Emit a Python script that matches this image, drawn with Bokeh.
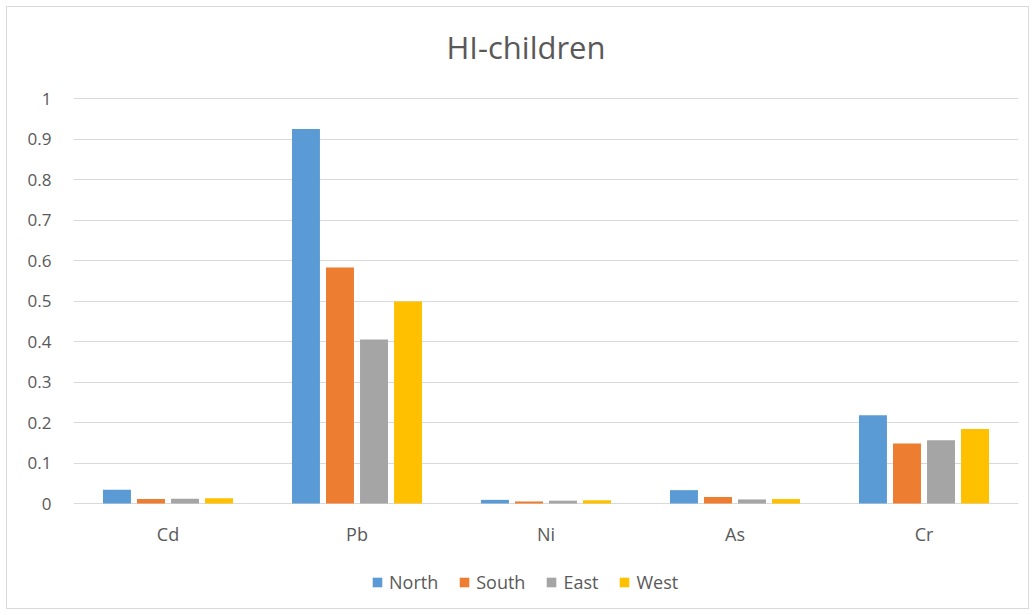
from bokeh.plotting import figure
from bokeh.models import (ColumnDataSource, FactorRange, Range1d, FixedTicker,
                          CustomJSTickFormatter, Legend, LegendItem, InlineStyleSheet)
from bokeh.core.properties import value
from bokeh.transform import dodge
from bokeh.embed import file_html
from bokeh.resources import INLINE

title = "HI-children"
categories = ["Cd", "Pb", "Ni", "As", "Cr"]
series = ["North", "South", "East", "West"]
north = [0.034, 0.925, 0.009, 0.033, 0.218]
south = [0.011, 0.583, 0.005, 0.016, 0.148]
east = [0.012, 0.405, 0.007, 0.010, 0.156]
west = [0.013, 0.499, 0.008, 0.011, 0.184]
y_ticks = [0, 0.1, 0.2, 0.3, 0.4, 0.5, 0.6, 0.7, 0.8, 0.9, 1.0]

colors = ["#5B9BD5", "#ED7D31", "#A5A5A5", "#FFC000"]
FONT = "Open Sans"
TXT = "#595959"

# frame spans 10..600 px; value 0 sits at 503 px, 1 at 98 px (405 px per unit)
PX = 1 / 405
Y_MIN = -97 * PX
Y_MAX = 1 + 88 * PX
LABEL_Y = -30 * PX
TITLE_Y = 1 + 52 * PX

source = ColumnDataSource(dict(cat=categories, North=north, South=south, East=east, West=west,
                               label_y=[LABEL_Y] * len(categories)))

css = """
:host { position: relative; }
:host::after { content: ''; position: absolute; left: 6px; top: 6px; right: 6px; bottom: 6px;
  border: 1px solid #d9d9d9; pointer-events: none; z-index: 10; }
"""

p = figure(x_range=FactorRange(*categories, range_padding=0), y_range=Range1d(Y_MIN, Y_MAX),
           title=None, frame_width=945, frame_height=590, output_backend="svg",
           toolbar_location=None,
           min_border_left=73, min_border_right=17, min_border_top=10, min_border_bottom=15,
           stylesheets=[InlineStyleSheet(css=css)])

offsets = [-0.27, -0.09, 0.09, 0.27]
renderers = []
for s, c, off in zip(series, colors, offsets):
    r = p.vbar(x=dodge("cat", off, range=p.x_range), top=s, bottom=0, width=0.148, source=source,
               fill_color=c, line_color=None)
    renderers.append(r)

# category labels
p.text(x="cat", y="label_y", text="cat", source=source, text_align="center",
       text_baseline="middle", text_font=value(FONT), text_font_size="18px", text_color=TXT)

# chart title
p.text(x=[categories[2]], y=[TITLE_Y], text=[title], x_offset=-20, text_align="center",
       text_baseline="middle", text_font=value(FONT), text_font_size="31px", text_color=TXT)

p.outline_line_color = None
p.xgrid.grid_line_color = None
p.ygrid.grid_line_color = "#d9d9d9"
p.ygrid.grid_line_width = 1
p.ygrid.ticker = FixedTicker(ticks=y_ticks)

p.xaxis.visible = False

p.yaxis.ticker = FixedTicker(ticks=y_ticks)
p.yaxis.formatter = CustomJSTickFormatter(code="return tick.toFixed(1).replace(/\\.0$/, '');")
p.yaxis.axis_line_color = None
p.yaxis.major_tick_line_color = None
p.yaxis.minor_tick_line_color = None
p.yaxis.major_label_text_font = FONT
p.yaxis.major_label_text_font_size = "17px"
p.yaxis.major_label_text_color = TXT
p.yaxis.major_label_standoff = 16

legend = Legend(items=[LegendItem(label=s, renderers=[r]) for s, r in zip(series, renderers)],
                orientation="horizontal", location=(298, 6),
                label_text_font=FONT, label_text_font_size="18px", label_text_color=TXT,
                glyph_width=12, glyph_height=12, spacing=20, label_standoff=6,
                padding=0, margin=0,
                border_line_color=None, background_fill_alpha=0)
p.add_layout(legend, "center")

open("out.html", "w").write(file_html(p, INLINE))
